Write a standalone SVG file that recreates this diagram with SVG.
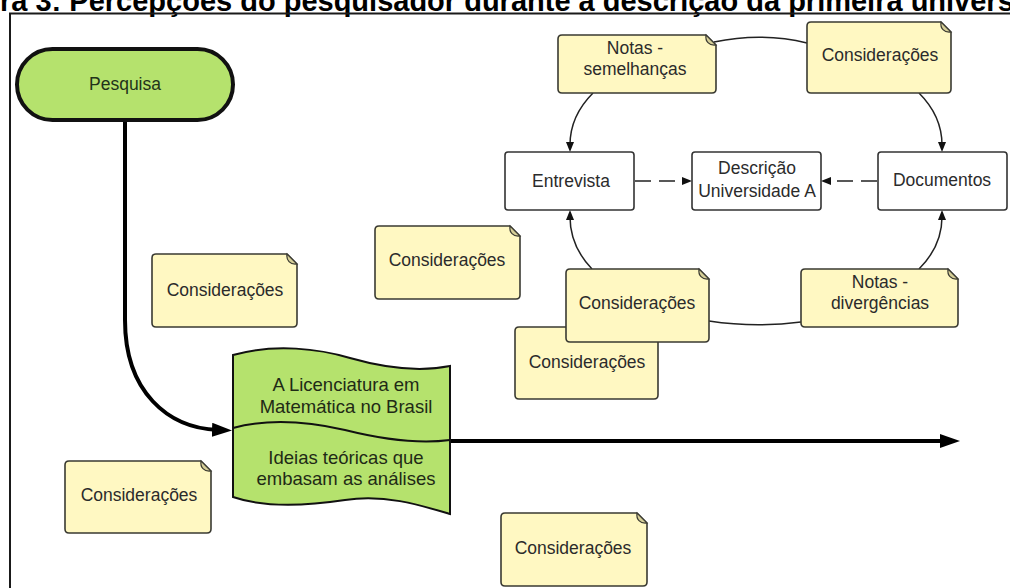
<svg xmlns="http://www.w3.org/2000/svg" width="1010" height="588" viewBox="0 0 1010 588">
  <style>
    .t { font-family: "Liberation Sans", Arial, sans-serif; font-size: 17.5px; fill: #2b2b2b; text-anchor: middle; }
    .td { font-size: 18.5px; fill: #1f2a16; }
    .title { font-family: "Liberation Sans", Arial, sans-serif; font-size: 29px; font-weight: bold; fill: #000; }
    .note { fill: #fff8c2; stroke: #3a3a32; stroke-width: 1.6; }
    .fold { fill: #d6cf98; stroke: #3a3a32; stroke-width: 1.2; }
    .box { fill: #ffffff; stroke: #333; stroke-width: 1.6; }
    .thin { fill: none; stroke: #222; stroke-width: 1.5; }
    .dash { fill: none; stroke: #222; stroke-width: 1.6; stroke-dasharray: 16 8; }
    .thick { fill: none; stroke: #000; stroke-width: 4; }
    .green { fill: #b5e26d; stroke: #111; }
  </style>
  <defs>
    <marker id="big" markerUnits="userSpaceOnUse" markerWidth="20" markerHeight="14" refX="6" refY="7" orient="auto" viewBox="0 0 20 14">
      <path d="M0,0 L20,7 L0,14 Z" fill="#000"/>
    </marker>
    <marker id="small" markerUnits="userSpaceOnUse" markerWidth="10" markerHeight="8" refX="3" refY="4" orient="auto" viewBox="0 0 10 8">
      <path d="M0,0 L10,4 L0,8 Z" fill="#111"/>
    </marker>
  </defs>

  <rect width="1010" height="588" fill="#fff"/>

  <!-- figure caption (cut at the top edge) and frame -->
  <text class="title" x="0" y="11">ra 3: Percepções do pesquisador durante a descrição da primeira univers</text>
  <rect x="10" y="13.5" width="1010" height="600" fill="none" stroke="#1a1a1a" stroke-width="2"/>

  <g id="connectors">
    <path class="thick" d="M125,122 L125,320 C125,392 168,428 218,430" marker-end="url(#big)"/>
    <path class="thick" d="M450,441 H946" marker-end="url(#big)"/>
    <path class="dash" d="M635,181 H685" marker-end="url(#small)"/>
    <path class="dash" d="M877,181 H828" marker-end="url(#small)"/>
    <path class="thin" d="M593,93 Q570,116 570,145" marker-end="url(#small)"/>
    <path class="thin" d="M919,93 Q942,116 942,145" marker-end="url(#small)"/>
    <path class="thin" d="M592,269 Q570,246 570,217" marker-end="url(#small)"/>
    <path class="thin" d="M919,269 Q942,246 942,217" marker-end="url(#small)"/>
    <path class="thin" d="M714,42 Q762,32 807,43"/>
    <path class="thin" d="M709,321 Q755,328 801,322"/>
  </g>

  <g id="pesquisa">
    <rect class="green" x="17" y="49" width="216" height="71" rx="35.5" stroke-width="4"/>
    <text class="t" x="125" y="90" style="fill:#22331a">Pesquisa</text>
  </g>

  <g id="documento">
    <path class="green" stroke-width="2" d="M233,355 C275,343 320,349 350,358 C385,368 420,372 450,366 L450,514 C420,505 385,494 345,500 C305,506 265,508 233,497 Z"/>
    <path fill="none" stroke="#111" stroke-width="2" d="M233,428 C270,418 310,422 345,430 C385,440 420,444 450,440"/>
    <text class="t td" x="346" y="391">A Licenciatura em</text>
    <text class="t td" x="346" y="413">Matemática no Brasil</text>
    <text class="t td" x="346" y="464">Ideias teóricas que</text>
    <text class="t td" x="346" y="485">embasam as análises</text>
  </g>

  <g id="entrevista">
    <rect class="box" x="505" y="152" width="129" height="58" rx="3"/>
    <text class="t" x="571" y="187">Entrevista</text>
  </g>
  <g id="descricao">
    <rect class="box" x="692" y="152" width="129" height="58" rx="3"/>
    <text class="t" x="757" y="174">Descrição</text>
    <text class="t" x="757" y="197">Universidade A</text>
  </g>
  <g id="documentos">
    <rect class="box" x="878" y="152" width="129" height="58" rx="3"/>
    <text class="t" x="942" y="186">Documentos</text>
  </g>

  <g id="nota-semelhancas">
    <path class="note" d="M562,35 H706 L716,45 V89 Q716,93 712,93 H562 Q558,93 558,89 V39 Q558,35 562,35 Z"/>
    <path class="fold" d="M706,35 C705,41 709,46 716,45 Z"/>
    <text class="t" x="635" y="54">Notas -</text>
    <text class="t" x="635" y="75">semelhanças</text>
  </g>
  <g id="consideracoes-topo">
    <path class="note" d="M811,22 H941 L951,32 V89 Q951,93 947,93 H811 Q807,93 807,89 V26 Q807,22 811,22 Z"/>
    <path class="fold" d="M941,22 C940,28 944,33 951,32 Z"/>
    <text class="t" x="880" y="61">Considerações</text>
  </g>
  <g id="nota-divergencias">
    <path class="note" d="M805,269 H948 L958,279 V323 Q958,327 954,327 H805 Q801,327 801,323 V273 Q801,269 805,269 Z"/>
    <path class="fold" d="M948,269 C947,275 951,280 958,279 Z"/>
    <text class="t" x="880" y="288">Notas -</text>
    <text class="t" x="880" y="309">divergências</text>
  </g>
  <g id="consideracoes-fundo">
    <path class="note" d="M519,327 H648 L658,337 V395 Q658,399 654,399 H519 Q515,399 515,395 V331 Q515,327 519,327 Z"/>
    <path class="fold" d="M648,327 C647,333 651,338 658,337 Z"/>
    <text class="t" x="587" y="368">Considerações</text>
  </g>
  <g id="consideracoes-frente">
    <path class="note" d="M570,269 H699 L709,279 V338 Q709,342 705,342 H570 Q566,342 566,338 V273 Q566,269 570,269 Z"/>
    <path class="fold" d="M699,269 C698,275 702,280 709,279 Z"/>
    <text class="t" x="637" y="309">Considerações</text>
  </g>
  <g id="consideracoes-centro">
    <path class="note" d="M379,226 H510 L520,236 V295 Q520,299 516,299 H379 Q375,299 375,295 V230 Q375,226 379,226 Z"/>
    <path class="fold" d="M510,226 C509,232 513,237 520,236 Z"/>
    <text class="t" x="447" y="266">Considerações</text>
  </g>
  <g id="consideracoes-esquerda">
    <path class="note" d="M156,254 H287 L297,264 V323 Q297,327 293,327 H156 Q152,327 152,323 V258 Q152,254 156,254 Z"/>
    <path class="fold" d="M287,254 C286,260 290,265 297,264 Z"/>
    <text class="t" x="225" y="296">Considerações</text>
  </g>
  <g id="consideracoes-inferior-esquerda">
    <path class="note" d="M69,461 H201 L211,471 V529 Q211,533 207,533 H69 Q65,533 65,529 V465 Q65,461 69,461 Z"/>
    <path class="fold" d="M201,461 C200,467 204,472 211,471 Z"/>
    <text class="t" x="139" y="501">Considerações</text>
  </g>
  <g id="consideracoes-inferior">
    <path class="note" d="M505,513 H637 L647,523 V582 Q647,586 643,586 H505 Q501,586 501,582 V517 Q501,513 505,513 Z"/>
    <path class="fold" d="M637,513 C636,519 640,524 647,523 Z"/>
    <text class="t" x="573" y="554">Considerações</text>
  </g>
</svg>
